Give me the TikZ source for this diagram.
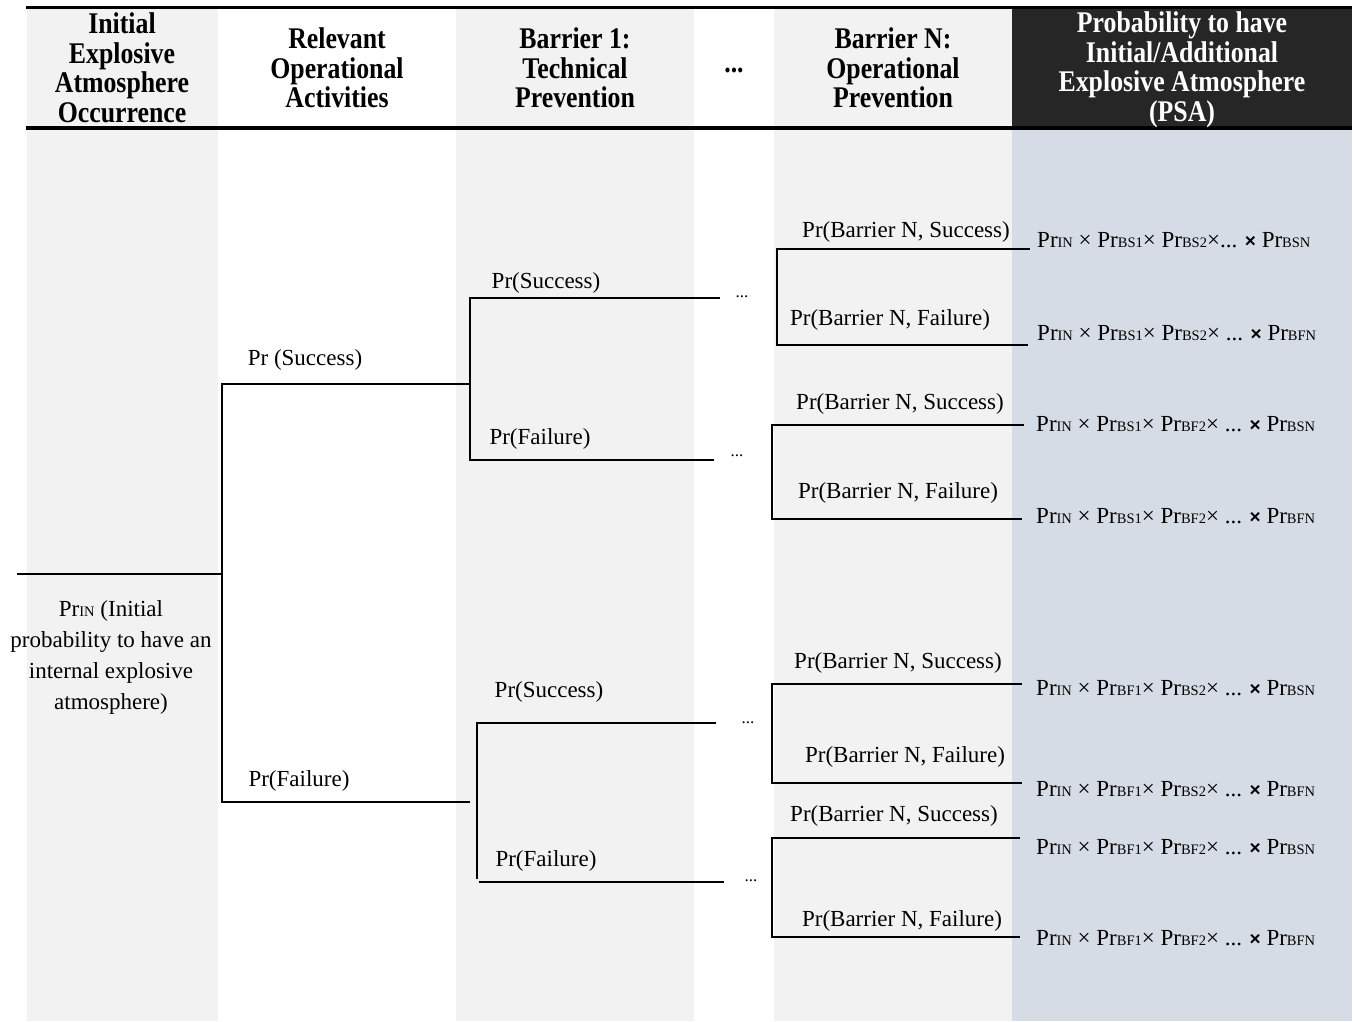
\documentclass[tikz,border=0pt]{standalone}
\usepackage{fontspec}
\setmainfont{Liberation Serif}
\newfontfamily\hdfont{Liberation Serif}[FakeStretch=0.86]
\newfontfamily\xsans{Liberation Sans}
\definecolor{colgray}{HTML}{F2F2F2}
\definecolor{hdark}{HTML}{262626}
\definecolor{psablue}{HTML}{D6DCE5}
% small upper-case index written on the baseline, e.g. Pr_IN
\newcommand{\sm}[1]{{\fontsize{14.5}{14.5}\selectfont #1}}
\newcommand{\prb}[1]{Pr\sm{#1}}
\newcommand{\bx}{{\xsans\fontsize{19}{19}\selectfont\bfseries ×}}
\tikzset{
  txt/.style={font=\fontsize{23}{31}\selectfont, inner sep=0pt},
  lbl/.style={txt, yshift=-2pt},
  res/.style={txt, anchor=west},
  dots/.style={font=\fontsize{17}{17}\selectfont, inner sep=0pt},
  hd/.style={font=\hdfont\bfseries\fontsize{30}{29.5}\selectfont, align=center, inner sep=0pt},
  branch/.style={line width=2.8pt, line join=miter},
  rule/.style={line width=3.2pt}
}
\begin{document}
\begin{tikzpicture}[x=1pt,y=-1pt]
\useasboundingbox (0,0) rectangle (1354,1021);

% column backgrounds
\fill[colgray] (27,9) rectangle (218,1021);
\fill[colgray] (456,9) rectangle (694,1021);
\fill[colgray] (774,9) rectangle (1012,1021);
\fill[hdark] (1012,9) rectangle (1352,127);
\fill[psablue] (1012,128) rectangle (1352,1021);

% header rules
\draw[rule] (26,7.5) -- (1352,7.5);
\draw[rule] (26,128) -- (1352,128);

% header texts
\node[hd] (h1) at (122,68) {Initial\\Explosive\\Atmosphere\\Occurrence};
\node[hd] (h2) at (337,68) {Relevant\\Operational\\Activities};
\node[hd] (h3) at (575,68) {Barrier 1:\\Technical\\Prevention};
\node[hd] (h4) at (734,70) {...};
\node[hd] (h5) at (893,68) {Barrier N:\\Operational\\Prevention};
\node[hd, text=white] (h6) at (1182,70) {Probability to have\\Initial/Additional\\Explosive Atmosphere\\(PSA)};

% ---- tree coordinates ----
\coordinate (r0) at (17,574);
\coordinate (r1) at (222,574);
% operational activities
\coordinate (a1) at (222,384);  \coordinate (a1e) at (470,384);
\coordinate (a2) at (222,802);  \coordinate (a2e) at (470,802);
% barrier 1, upper
\coordinate (b1) at (470,298);  \coordinate (b1e) at (720,298);
\coordinate (b2) at (470,460);  \coordinate (b2e) at (714,460);
% barrier 1, lower
\coordinate (b3) at (477,723);  \coordinate (b3e) at (716,723);
\coordinate (b4t) at (477,879); \coordinate (b4) at (479,882); \coordinate (b4e) at (724,882);
% barrier N
\coordinate (n1) at (777,249);  \coordinate (n1e) at (1030,249);
\coordinate (n2) at (777,345);  \coordinate (n2e) at (1028,345);
\coordinate (n3) at (772,425);  \coordinate (n3e) at (1024,425);
\coordinate (n4) at (772,519);  \coordinate (n4e) at (1022,519);
\coordinate (n5) at (772,684);  \coordinate (n5e) at (1022,684);
\coordinate (n6) at (772,783);  \coordinate (n6e) at (1022,783);
\coordinate (n7) at (772,838);  \coordinate (n7e) at (1020,838);
\coordinate (n8) at (772,937);  \coordinate (n8e) at (1020,937);

% ---- branches ----
\draw[branch] (r0) -- (r1);
\draw[branch] (a1e) -- (a1) -- (a2) -- (a2e);
\draw[branch] (b1e) -- (b1) -- (b2) -- (b2e);
\draw[branch] (b3e) -- (b3) -- (b4t);
\draw[branch] (b4) -- (b4e);
\draw[branch] (n1e) -- (n1) -- (n2) -- (n2e);
\draw[branch] (n3e) -- (n3) -- (n4) -- (n4e);
\draw[branch] (n5e) -- (n5) -- (n6) -- (n6e);
\draw[branch] (n7e) -- (n7) -- (n8) -- (n8e);

% ---- branch labels ----
\node[txt, align=center] (init) at (111,657) {\prb{IN} (Initial\\probability to have an\\internal explosive\\atmosphere)};
\node[lbl] (la1) at (305,358) {Pr (Success)};
\node[lbl] (la2) at (299,779) {Pr(Failure)};
\node[lbl] (lb1) at (546,281) {Pr(Success)};
\node[lbl] (lb2) at (540,437) {Pr(Failure)};
\node[lbl] (lb3) at (549,690) {Pr(Success)};
\node[lbl] (lb4) at (546,859) {Pr(Failure)};
\node[dots] (d1) at (742,297) {...};
\node[dots] (d2) at (737,456) {...};
\node[dots] (d3) at (748,723) {...};
\node[dots] (d4) at (751,881) {...};
\node[lbl] (ln1) at (906,230) {Pr(Barrier N, Success)};
\node[lbl] (ln2) at (890,318) {Pr(Barrier N, Failure)};
\node[lbl] (ln3) at (900,402) {Pr(Barrier N, Success)};
\node[lbl] (ln4) at (898,491) {Pr(Barrier N, Failure)};
\node[lbl] (ln5) at (898,661) {Pr(Barrier N, Success)};
\node[lbl] (ln6) at (905,755) {Pr(Barrier N, Failure)};
\node[lbl] (ln7) at (894,814) {Pr(Barrier N, Success)};
\node[lbl] (ln8) at (902,919) {Pr(Barrier N, Failure)};

% ---- outcome probabilities ----
\node[res] (p1) at (1037,240) {\prb{IN} × \prb{BS1}× \prb{BS2}×... \bx{} \prb{BSN}};
\node[res] (p2) at (1037,333) {\prb{IN} × \prb{BS1}× \prb{BS2}× ... \bx{} \prb{BFN}};
\node[res] (p3) at (1036,424) {\prb{IN} × \prb{BS1}× \prb{BF2}× ... \bx{} \prb{BSN}};
\node[res] (p4) at (1036,516) {\prb{IN} × \prb{BS1}× \prb{BF2}× ... \bx{} \prb{BFN}};
\node[res] (p5) at (1036,688) {\prb{IN} × \prb{BF1}× \prb{BS2}× ... \bx{} \prb{BSN}};
\node[res] (p6) at (1036,789) {\prb{IN} × \prb{BF1}× \prb{BS2}× ... \bx{} \prb{BFN}};
\node[res] (p7) at (1036,847) {\prb{IN} × \prb{BF1}× \prb{BF2}× ... \bx{} \prb{BSN}};
\node[res] (p8) at (1036,938) {\prb{IN} × \prb{BF1}× \prb{BF2}× ... \bx{} \prb{BFN}};
\end{tikzpicture}
\end{document}
